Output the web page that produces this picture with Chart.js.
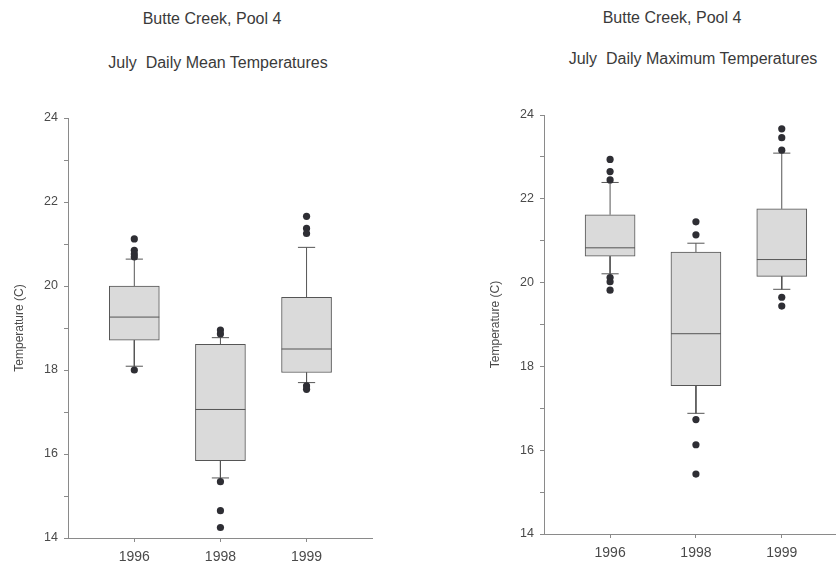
<!DOCTYPE html>
<html>
<head>
<meta charset="utf-8">
<script src="https://cdn.jsdelivr.net/npm/chart.js@4"></script>
<style>
  html, body { margin: 0; padding: 0; background: #fff; }
  body { width: 836px; height: 563px; overflow: hidden; position: relative; font-family: "Liberation Sans", Arial, sans-serif; }
  .title { position: absolute; color: #3a3a3a; font-size: 16px; line-height: 18px; white-space: pre; transform: translateX(-50%); }
  .wrap { position: absolute; top: 0; }
</style>
</head>
<body>
<div class="title" style="left:212px; top:10px">Butte Creek, Pool 4</div>
<div class="title" style="left:218px; top:54px">July  Daily Mean Temperatures</div>
<div class="title" style="left:672px; top:9px">Butte Creek, Pool 4</div>
<div class="title" style="left:693px; top:50px">July  Daily Maximum Temperatures</div>

<div class="wrap" style="left:0; width:400px; height:575px"><canvas id="meanChart"></canvas></div>
<div class="wrap" style="left:470px; width:400px; height:575px"><canvas id="maxChart"></canvas></div>

<script>
/* ── July temperature box plots, Butte Creek Pool 4 ── */

// ── Data ────────────────────────────────────────────────────────────────────
const years = ["1996", "1998", "1999"];
const yTicks = [14, 16, 18, 20, 22, 24];

// daily mean
const meanLow    = [18.09, 15.43, 17.70];
const meanQ1     = [18.71, 15.84, 17.94];
const meanMedian = [19.26, 17.06, 18.50];
const meanQ3     = [20.00, 18.61, 19.73];
const meanHigh   = [20.64, 18.77, 20.92];
const meanOutliers = [
  [21.12, 20.85, 20.76, 20.69, 18.00],
  [18.95, 18.86, 15.34, 14.65, 14.25],
  [21.66, 21.37, 21.25, 17.62, 17.54],
];

// daily maximum
const maxLow    = [20.21, 16.88, 19.84];
const maxQ1     = [20.63, 17.54, 20.15];
const maxMedian = [20.83, 18.78, 20.55];
const maxQ3     = [21.62, 20.73, 21.76];
const maxHigh   = [22.39, 20.94, 23.09];
const maxOutliers = [
  [22.94, 22.65, 22.45, 20.12, 20.02, 19.82],
  [21.45, 21.14, 16.73, 16.13, 15.43],
  [23.67, 23.46, 23.16, 19.65, 19.44],
];

// ── Style ───────────────────────────────────────────────────────────────────
const AXIS = "#8a8a8a";
const TEXT = "#4a4a4a";
const BOX_HALF = 0.29;   // half box width, in category units
const CAP_HALF = 0.10;   // half whisker cap width

Chart.defaults.font.family = "'Liberation Sans', Arial, sans-serif";
Chart.defaults.color = TEXT;

// ── Helpers ─────────────────────────────────────────────────────────────────
function seg(out, x1, y1, x2, y2) {
  out.push({ x: x1, y: y1 }, { x: x2, y: y2 }, { x: x2, y: null });
}

function whiskerLines(low, q1, median, q3, high) {
  const pts = [];
  years.forEach((_, i) => {
    const x = i + 1;
    seg(pts, x - BOX_HALF, median[i], x + BOX_HALF, median[i]);
    seg(pts, x, q3[i], x, high[i]);
    seg(pts, x - CAP_HALF, high[i], x + CAP_HALF, high[i]);
    seg(pts, x, q1[i], x, low[i]);
    seg(pts, x - CAP_HALF, low[i], x + CAP_HALF, low[i]);
  });
  return pts;
}

function makeBoxChart(id, low, q1, median, q3, high, outliers, layout) {
  const boxes = years.map((_, i) => ({ x: i + 1, y: [q1[i], q3[i]] }));
  const dots = [];
  outliers.forEach((list, i) => list.forEach((v) => dots.push({ x: i + 1, y: v })));

  return new Chart(document.getElementById(id), {
    type: "bar",
    data: {
      datasets: [
        {
          type: "scatter",
          data: dots,
          pointRadius: 3.6,
          pointBackgroundColor: "#2e2e34",
          pointBorderWidth: 0,
          order: 1,
        },
        {
          type: "line",
          data: whiskerLines(low, q1, median, q3, high),
          borderColor: "#555",
          borderWidth: 1,
          pointRadius: 0,
          spanGaps: false,
          order: 2,
        },
        {
          type: "bar",
          data: boxes,
          backgroundColor: "#dadada",
          borderColor: "#555",
          borderWidth: 1,
          borderSkipped: false,
          barThickness: 50,
          order: 3,
        },
      ],
    },
    options: {
      responsive: true,
      maintainAspectRatio: false,
      animation: false,
      layout: { padding: { top: layout.top, right: layout.right, left: 0, bottom: 0 } },
      plugins: { legend: { display: false }, tooltip: { enabled: false } },
      scales: {
        x: {
          type: "linear",
          min: 0.23,
          max: 3.76,
          offset: false,
          afterBuildTicks: (s) => { s.ticks = years.map((_, i) => ({ value: i + 1 })); },
          afterFit: (s) => { s.height = layout.xHeight; },
          ticks: {
            autoSkip: false,
            maxRotation: 0,
            padding: 7,
            font: { size: 14 },
            callback: (v) => years[v - 1] || "",
          },
          grid: { offset: false, drawOnChartArea: false, tickLength: 4, color: AXIS },
          border: { color: AXIS },
        },
        y: {
          min: 14,
          max: 24,
          afterBuildTicks: (s) => {
            const t = [];
            for (let v = 14; v <= 24; v++) t.push({ value: v });
            s.ticks = t;
          },
          afterFit: (s) => { s.width = layout.yWidth; },
          ticks: {
            padding: 6,
            font: { size: 12.5 },
            callback: (v) => (yTicks.includes(v) ? String(v) : ""),
          },
          grid: {
            drawOnChartArea: false,
            tickLength: 4,
            color: AXIS,
          },
          border: { color: AXIS },
          title: {
            display: true,
            text: "Temperature (C)",
            font: { size: 12 },
            color: TEXT,
            padding: { top: layout.titlePad, bottom: 0 },
          },
        },
      },
    },
  });
}

// ── Boot ────────────────────────────────────────────────────────────────────
makeBoxChart("meanChart", meanLow, meanQ1, meanMedian, meanQ3, meanHigh, meanOutliers,
  { top: 118, right: 28, xHeight: 37, yWidth: 68, titlePad: 12 });
makeBoxChart("maxChart", maxLow, maxQ1, maxMedian, maxQ3, maxHigh, maxOutliers,
  { top: 115, right: 23, xHeight: 41, yWidth: 74, titlePad: 18 });
</script>
</body>
</html>
